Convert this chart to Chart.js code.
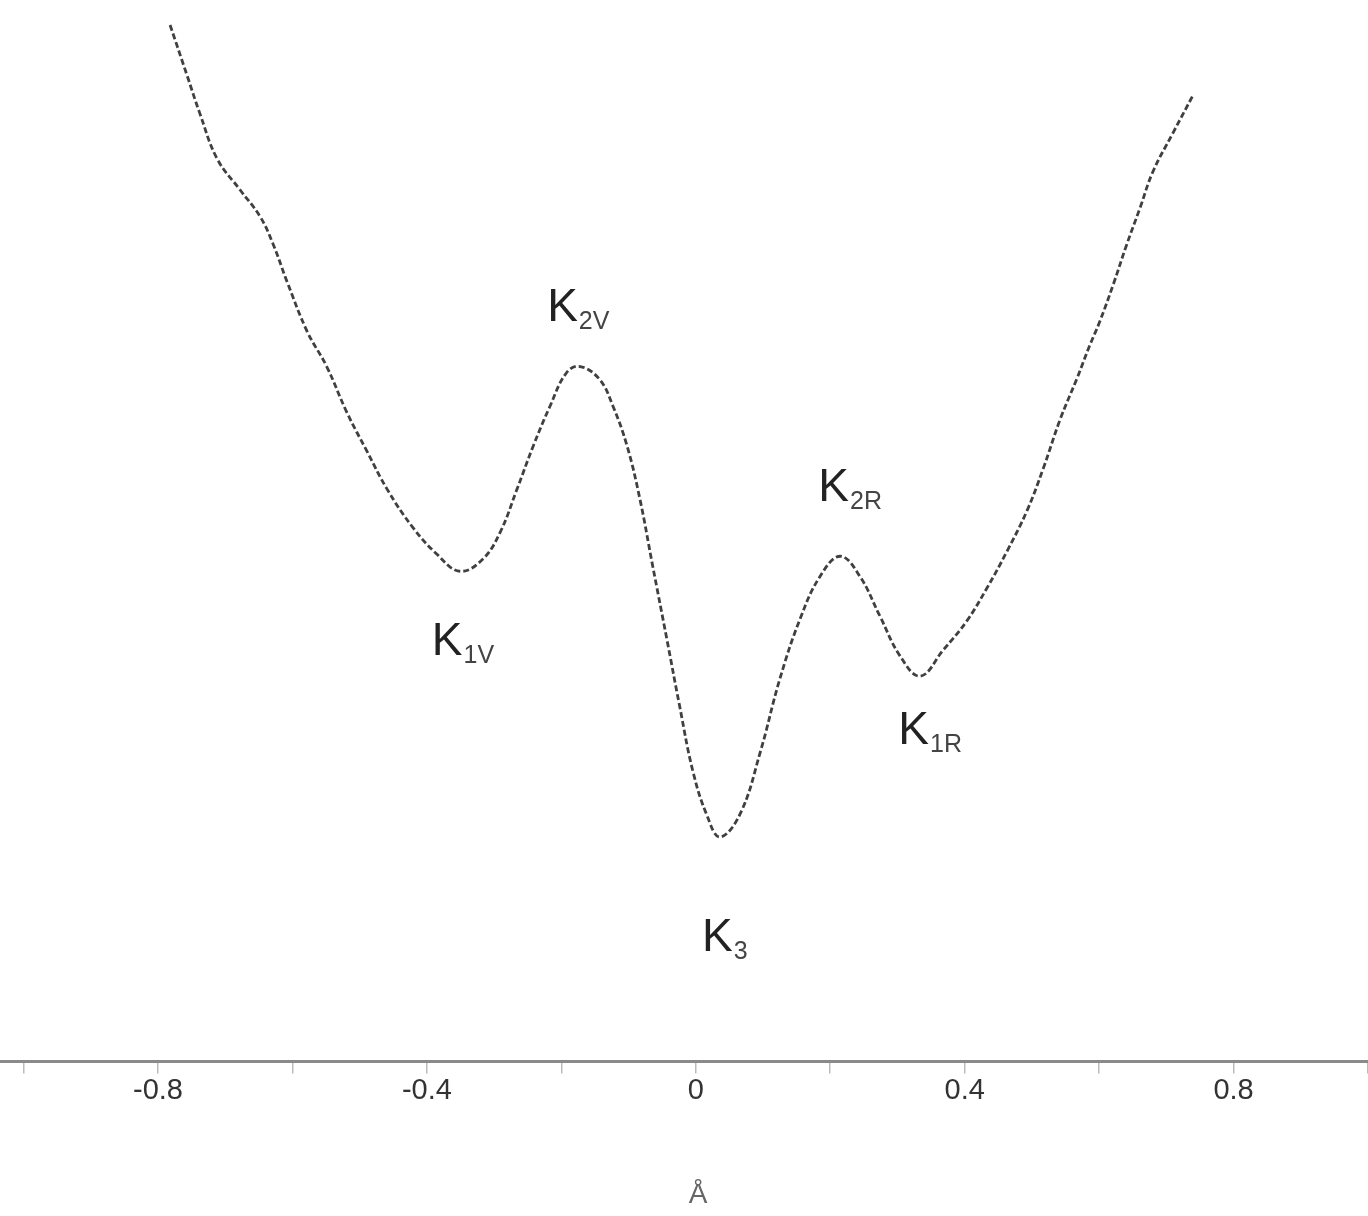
<!DOCTYPE html>
<html>
<head>
<meta charset="utf-8">
<script src="https://cdn.jsdelivr.net/npm/chart.js@4/dist/chart.umd.min.js"></script>
<style>
  html, body { margin: 0; padding: 0; background: #fff; }
</style>
</head>
<body>
<canvas id="chart" width="1368" height="1216"></canvas>
<script>
// reaction coordinate (Å) and energy along the path (arbitrary units)
const position = [
  -0.782, -0.757, -0.738, -0.712, -0.678, -0.648, -0.629, -0.608, -0.578, -0.549,
  -0.519, -0.489, -0.459, -0.421, -0.385, -0.351, -0.317, -0.291, -0.266, -0.242,
  -0.217, -0.192, -0.172, -0.143, -0.123, -0.102, -0.083, -0.064, -0.043, -0.024,
  -0.004, 0.017, 0.036, 0.066, 0.096, 0.125, 0.155, 0.185, 0.215, 0.244,
  0.274, 0.304, 0.334, 0.368, 0.403, 0.433, 0.463, 0.493, 0.517, 0.542,
  0.567, 0.586, 0.601, 0.621, 0.641, 0.661, 0.680, 0.710, 0.740
];
const energy = [
  10.32, 9.82, 9.44, 8.98, 8.67, 8.40, 8.13, 7.75, 7.25, 6.90,
  6.44, 6.05, 5.67, 5.29, 5.02, 4.85, 4.97, 5.24, 5.67, 6.10,
  6.50, 6.84, 6.90, 6.77, 6.50, 6.10, 5.57, 4.90, 4.17, 3.50,
  2.84, 2.40, 2.19, 2.42, 3.04, 3.77, 4.37, 4.80, 5.00, 4.80,
  4.40, 4.00, 3.80, 4.06, 4.35, 4.68, 5.05, 5.46, 5.88, 6.37,
  6.78, 7.11, 7.35, 7.72, 8.12, 8.49, 8.85, 9.24, 9.62
];

// stationary points: subscript and the index of the point they belong to
const stateSub = ['1V', '2V', '3', '2R', '1R'];
const stateIndex = [15, 22, 32, 38, 42];

const tickValues = [-1.0, -0.8, -0.6, -0.4, -0.2, 0, 0.2, 0.4, 0.6, 0.8, 1.0];
const labeledTicks = [-0.8, -0.4, 0, 0.4, 0.8];
const tickText = ['-0.8', '-0.4', '0', '0.4', '0.8'];

// label offsets from the point: [dx, dy] to the baseline-left of "K"
const labelOffset = {
  '1V': [-28, 84],
  '2V': [-33, -46],
  '3': [-18, 114],
  '2R': [-22, -55],
  '1R': [-22, 68]
};

const stateLabels = {
  id: 'stateLabels',
  afterDatasetsDraw(chart) {
    const ctx = chart.ctx;
    const xs = chart.scales.x, ys = chart.scales.y;
    ctx.save();
    ctx.textBaseline = 'alphabetic';
    ctx.textAlign = 'left';
    stateSub.forEach((sub, k) => {
      const i = stateIndex[k];
      const off = labelOffset[sub];
      const px = xs.getPixelForValue(position[i]) + off[0];
      const py = ys.getPixelForValue(energy[i]) + off[1];
      ctx.font = '46px "Liberation Sans", Arial, sans-serif';
      ctx.fillStyle = '#222';
      ctx.fillText('K', px, py);
      const w = ctx.measureText('K').width;
      ctx.font = '25px "Liberation Sans", Arial, sans-serif';
      ctx.fillStyle = '#444';
      ctx.fillText(sub, px + w + 1, py + 8);
    });
    ctx.restore();
  }
};

const ctx = document.getElementById('chart').getContext('2d');
new Chart(ctx, {
  type: 'line',
  data: {
    datasets: [{
      data: position.map((x, i) => ({ x: x, y: energy[i] })),
      borderColor: '#404040',
      borderWidth: 2.8,
      borderDash: [6, 3],
      pointRadius: 0,
      tension: 0.4,
      fill: false
    }]
  },
  plugins: [stateLabels],
  options: {
    responsive: false,
    animation: false,
    layout: { padding: 0 },
    plugins: {
      legend: { display: false },
      tooltip: { enabled: false }
    },
    scales: {
      x: {
        type: 'linear',
        min: -1.035,
        max: 1.0,
        afterBuildTicks: (scale) => {
          scale.ticks = tickValues.map(v => ({ value: v }));
        },
        // let the axis run edge to edge
        afterFit: (scale) => {
          scale.paddingLeft = 0;
          scale.paddingRight = 0;
        },
        grid: {
          drawOnChartArea: false,
          drawTicks: true,
          tickLength: 12,
          color: '#bbb',
          lineWidth: 1.5
        },
        border: { display: true, color: '#8a8a8a', width: 3, dash: [2, 2] },
        ticks: {
          autoSkip: false,
          maxRotation: 0,
          padding: 0,
          color: '#333',
          font: { family: '"Liberation Sans", Arial, sans-serif', size: 29 },
          callback: (value) => {
            const k = labeledTicks.findIndex(t => Math.abs(t - value) < 1e-6);
            return k >= 0 ? tickText[k] : '';
          }
        },
        title: {
          display: true,
          // em space nudges the unit under the zero tick
          text: '\u2003Å',
          color: '#666',
          font: { family: '"Liberation Sans", Arial, sans-serif', size: 28 },
          padding: { top: 70, bottom: 4 }
        }
      },
      y: {
        display: false,
        min: -0.06,
        max: 10.57
      }
    }
  }
});
</script>
</body>
</html>
